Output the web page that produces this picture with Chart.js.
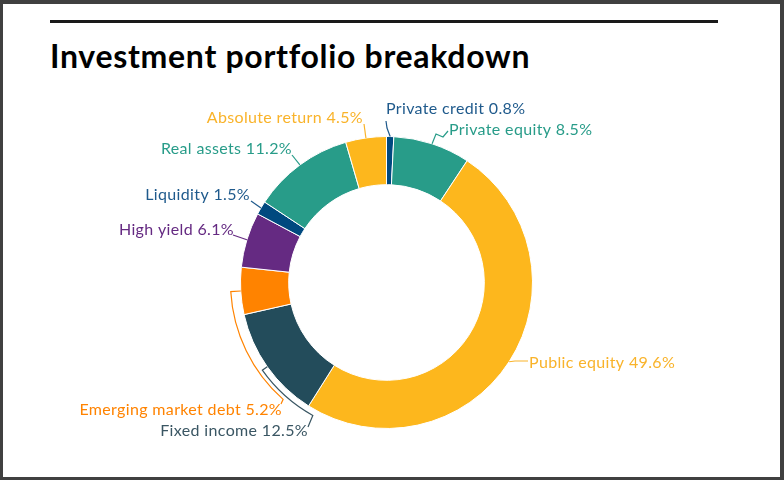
<!DOCTYPE html>
<html>
<head>
<meta charset="utf-8">
<script src="https://cdn.jsdelivr.net/npm/chart.js@4/dist/chart.umd.min.js"></script>
<style>
html,body{margin:0;padding:0;background:#404040;width:784px;height:480px;overflow:hidden;}
#paper{position:absolute;left:3px;top:4px;width:777px;height:473px;background:#fff;}
#rule{position:absolute;left:50px;top:20px;width:668px;height:3px;background:#1a1a1a;}
#title{position:absolute;left:50px;top:36px;margin:0;font:700 32px Lato,sans-serif;color:#000;letter-spacing:0.7px;white-space:nowrap;}
#chart{position:absolute;left:0;top:0;}
</style>
</head>
<body>
<div id="paper"></div>
<div id="rule"></div>
<h1 id="title">Investment portfolio breakdown</h1>
<canvas id="chart" width="784" height="480"></canvas>
<script>
// ====================================
// DATA
// ====================================

const categories = [
    "Private credit", "Private equity", "Public equity", "Fixed income",
    "Emerging market debt", "High yield", "Liquidity", "Real assets", "Absolute return"
];

const shares = [0.8, 8.5, 49.6, 12.5, 5.2, 6.1, 1.5, 11.2, 4.5];

const sliceColors = [
    "#00497F", "#289C89", "#FDB71D", "#234C5B",
    "#FF8300", "#652A82", "#00497F", "#289C89", "#FDB71D"
];

const labelColors = [
    "#1F5A8C", "#289C89", "#F9B32A", "#3A5663",
    "#FF8300", "#652A82", "#1F5A8C", "#289C89", "#F9B32A"
];

// ====================================
// LABEL LAYOUT (text anchor + leader shape)
// ====================================

const labelLayout = [
    { x: 386, y: 109, align: "left",  pts: [[387,128],[386,121]] },
    { x: 449, y: 130, align: "left",  pts: [[436,134],[443,137],[448,131]] },
    { x: 529, y: 363, align: "left",  pts: [[515,361],[528,361]] },
    { x: 308, y: 431, align: "right", bracket: { gap: 6,  to: 209 }, pts: [[308,427]] },
    { x: 282, y: 410, align: "right", bracket: { gap: 10, to: 221.5 }, pts: [[281,404]] },
    { x: 234, y: 230, align: "right", pts: [[233,235]] },
    { x: 250, y: 195, align: "right", pts: [[251,201]] },
    { x: 292, y: 149, align: "right", pts: [[292,155]] },
    { x: 363, y: 118, align: "right", pts: [[364,124]] }
];

// ====================================
// LABEL PLUGIN
// ====================================

const leaderLabels = {
    id: "leaderLabels",
    afterDraw(chart){
        const ctx = chart.ctx;
        const arcs = chart.getDatasetMeta(0).data;

        ctx.save();
        ctx.font = "16px Lato, sans-serif";
        ctx.letterSpacing = "0.35px";
        ctx.textBaseline = "middle";
        ctx.lineWidth = 1.2;

        arcs.forEach((arc, i) => {
            const p = arc.getProps(["x","y","startAngle","endAngle","outerRadius"], true);
            const mid = (p.startAngle + p.endAngle) / 2;
            const r = p.outerRadius;
            const lay = labelLayout[i];
            const col = labelColors[i];

            ctx.strokeStyle = col;
            ctx.beginPath();
            ctx.moveTo(p.x + r * Math.cos(mid), p.y + r * Math.sin(mid));

            if(lay.bracket){
                const R = r + lay.bracket.gap;
                const end = (lay.bracket.to - 90) * Math.PI / 180;
                ctx.lineTo(p.x + R * Math.cos(mid), p.y + R * Math.sin(mid));
                ctx.arc(p.x, p.y, R, mid, end, true);
            }

            lay.pts.forEach(pt => ctx.lineTo(pt[0], pt[1]));
            ctx.stroke();

            ctx.fillStyle = col;
            ctx.textAlign = lay.align;
            ctx.fillText(categories[i] + " " + shares[i].toFixed(1) + "%", lay.x, lay.y);
        });

        ctx.restore();
    }
};

// ====================================
// DOUGHNUT
// ====================================

const ctxPortfolio = document.getElementById("chart").getContext("2d");

const portfolioChart = new Chart(ctxPortfolio, {
    type: "doughnut",
    data: {
        labels: categories,
        datasets: [{
            data: shares,
            backgroundColor: sliceColors,
            borderColor: "#ffffff",
            borderWidth: 1
        }]
    },
    options: {
        responsive: false,
        animation: false,
        cutout: "67%",
        layout: {
            padding: { left: 240, right: 251, top: 136, bottom: 51 }
        },
        plugins: {
            legend: { display: false },
            tooltip: { enabled: false }
        }
    },
    plugins: [leaderLabels]
});
</script>
</body>
</html>
